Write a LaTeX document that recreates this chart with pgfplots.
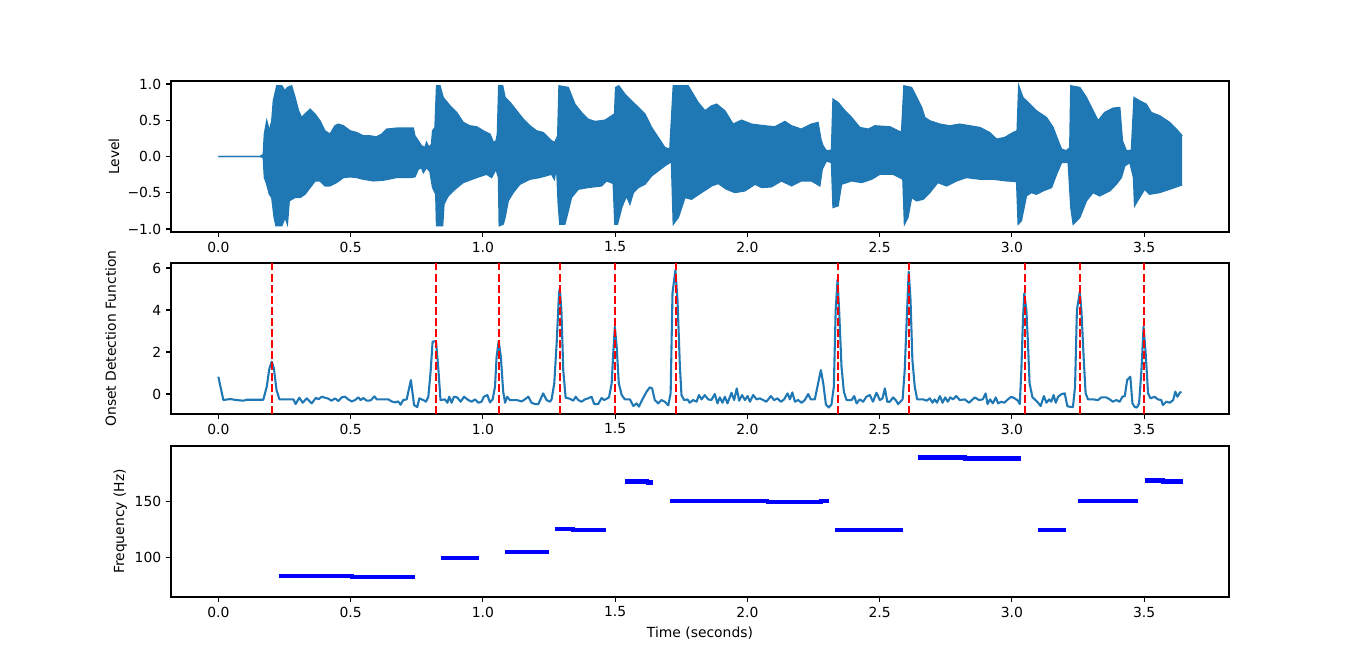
\documentclass[border=0pt]{standalone}
\usepackage{fontspec}
\setmainfont{DejaVu Sans}
\usepackage{pgfplots}
\pgfplotsset{compat=1.18}
\usepgfplotslibrary{fillbetween}
\definecolor{mplblue}{HTML}{1F77B4}
\pgfplotsset{
 myax/.style={
  scale only axis, width=761.76pt, height=108.72pt,
  anchor=south west,
  xmin=-0.179, xmax=3.821,
  xtick={0,0.5,1,1.5,2,2.5,3,3.5},
  xticklabels={0.0,0.5,1.0,1.5,2.0,2.5,3.0,3.5},
  tick align=outside, tick pos=left,
  major tick length=3.5pt,
  tick style={line width=0.8pt, black},
  axis line style={line width=0.8pt},
  tick label style={font=\fontsize{10}{12}\selectfont},
  label style={font=\fontsize{10}{12}\selectfont},
  /pgf/number format/assume math mode=true,
  unbounded coords=jump,
 }
}
\begin{document}
\begin{tikzpicture}
\path (0,0) rectangle (983.52pt,483.12pt);
% ---------- top: waveform
\begin{axis}[myax, at={(123.12pt,316.08pt)},
  ymin=-1.042, ymax=1.042,
  ytick={-1,-0.5,0,0.5,1},
  yticklabels={−1.0,−0.5,0.0,0.5,1.0},
  ylabel={Level},
  ylabel style={at={(axis description cs:-0.054,0.5)}, anchor=center}]
\addplot[mplblue, line width=1pt, name path=up] coordinates {
(0,0)(0.158,0)(0.170,0.03)(0.174,0.31)(0.183,0.49)(0.193,0.35)(0.202,0.49)(0.208,0.77)(0.221,0.975)(0.240,0.975)(0.252,0.906)(0.261,0.952)(0.277,0.975)(0.290,0.814)(0.303,0.630)(0.315,0.538)(0.334,0.607)(0.347,0.653)(0.366,0.584)(0.384,0.492)(0.403,0.354)(0.422,0.308)(0.441,0.423)(0.454,0.446)(0.473,0.423)(0.498,0.354)(0.523,0.331)(0.548,0.285)(0.573,0.285)(0.598,0.271)(0.618,0.308)(0.636,0.377)(0.674,0.391)(0.737,0.391)(0.743,0.285)(0.756,0.216)(0.768,0.147)(0.781,0.124)(0.787,0.193)(0.797,0.124)(0.806,0.170)(0.810,0.354)(0.819,0.400)(0.825,0.975)(0.838,0.975)(0.850,0.814)(0.876,0.699)(0.901,0.607)(0.926,0.469)(0.951,0.423)(0.977,0.409)(1.002,0.354)(1.027,0.308)(1.040,0.193)(1.050,0.216)(1.055,0.308)(1.060,0.975)(1.075,0.975)(1.084,0.814)(1.103,0.745)(1.128,0.630)(1.153,0.515)(1.178,0.423)(1.203,0.354)(1.228,0.331)(1.260,0.216)(1.272,0.193)(1.283,0.285)(1.288,0.975)(1.323,0.952)(1.348,0.722)(1.373,0.607)(1.398,0.515)(1.424,0.483)(1.462,0.501)(1.493,0.575)(1.497,0.492)(1.502,0.952)(1.514,0.975)(1.537,0.860)(1.562,0.768)(1.588,0.676)(1.613,0.584)(1.638,0.400)(1.663,0.262)(1.688,0.124)(1.707,0.101)(1.720,0.975)(1.776,0.975)(1.814,0.745)(1.840,0.630)(1.865,0.699)(1.884,0.722)(1.915,0.630)(1.946,0.446)(1.978,0.501)(2.016,0.446)(2.066,0.423)(2.104,0.409)(2.142,0.483)(2.167,0.423)(2.204,0.377)(2.242,0.446)(2.267,0.469)(2.278,0.239)(2.286,0.147)(2.299,0.078)(2.318,0.087)(2.324,0.791)(2.343,0.745)(2.369,0.630)(2.394,0.538)(2.425,0.400)(2.457,0.377)(2.482,0.423)(2.539,0.409)(2.583,0.331)(2.592,0.975)(2.621,0.952)(2.640,0.814)(2.659,0.676)(2.671,0.538)(2.690,0.492)(2.728,0.446)(2.765,0.423)(2.803,0.446)(2.841,0.423)(2.879,0.400)(2.916,0.331)(2.942,0.239)(2.973,0.262)(3.005,0.331)(3.020,0.354)(3.026,0.975)(3.042,0.814)(3.068,0.722)(3.093,0.630)(3.131,0.538)(3.156,0.400)(3.175,0.216)(3.188,0.101)(3.206,0.078)(3.219,0.124)(3.223,0.975)(3.257,0.952)(3.282,0.814)(3.307,0.630)(3.326,0.492)(3.351,0.607)(3.383,0.667)(3.408,0.676)(3.418,0.216)(3.433,0.078)(3.452,0.087)(3.462,0.814)(3.483,0.768)(3.508,0.722)(3.527,0.607)(3.559,0.561)(3.597,0.469)(3.622,0.377)(3.644,0.285)
};
\addplot[mplblue, line width=1pt, name path=lo] coordinates {
(0,0)(0.158,0)(0.170,-0.014)(0.174,-0.290)(0.183,-0.382)(0.193,-0.520)(0.202,-0.566)(0.211,-0.841)(0.218,-0.956)(0.240,-0.956)(0.252,-0.841)(0.261,-0.933)(0.268,-0.611)(0.290,-0.566)(0.309,-0.566)(0.328,-0.520)(0.347,-0.428)(0.366,-0.336)(0.384,-0.336)(0.403,-0.405)(0.422,-0.405)(0.447,-0.359)(0.473,-0.290)(0.498,-0.280)(0.523,-0.290)(0.548,-0.313)(0.586,-0.336)(0.624,-0.326)(0.674,-0.290)(0.724,-0.290)(0.743,-0.280)(0.756,-0.175)(0.768,-0.152)(0.775,-0.221)(0.787,-0.152)(0.800,-0.207)(0.810,-0.428)(0.822,-0.520)(0.825,-0.956)(0.848,-0.956)(0.853,-0.657)(0.869,-0.543)(0.895,-0.451)(0.926,-0.359)(0.977,-0.290)(1.014,-0.244)(1.033,-0.290)(1.040,-0.244)(1.050,-0.175)(1.059,-0.290)(1.062,-0.956)(1.077,-0.933)(1.084,-0.841)(1.096,-0.611)(1.115,-0.497)(1.140,-0.382)(1.178,-0.313)(1.215,-0.290)(1.260,-0.244)(1.270,-0.313)(1.279,-0.152)(1.285,-0.657)(1.291,-0.933)(1.310,-0.933)(1.323,-0.749)(1.335,-0.566)(1.361,-0.451)(1.398,-0.428)(1.449,-0.405)(1.468,-0.336)(1.493,-0.372)(1.499,-0.933)(1.509,-0.933)(1.525,-0.703)(1.543,-0.543)(1.556,-0.657)(1.569,-0.497)(1.588,-0.428)(1.613,-0.382)(1.638,-0.267)(1.663,-0.198)(1.688,-0.129)(1.713,-0.069)(1.720,-0.933)(1.739,-0.841)(1.764,-0.566)(1.789,-0.589)(1.827,-0.497)(1.865,-0.405)(1.890,-0.372)(1.921,-0.451)(1.953,-0.497)(1.991,-0.474)(2.029,-0.382)(2.054,-0.428)(2.091,-0.418)(2.129,-0.336)(2.167,-0.405)(2.204,-0.336)(2.242,-0.336)(2.274,-0.405)(2.283,-0.175)(2.299,-0.060)(2.318,-0.083)(2.324,-0.703)(2.343,-0.680)(2.356,-0.382)(2.394,-0.336)(2.432,-0.359)(2.470,-0.313)(2.501,-0.244)(2.551,-0.244)(2.576,-0.290)(2.588,-0.313)(2.594,-0.933)(2.607,-0.841)(2.621,-0.566)(2.640,-0.611)(2.665,-0.589)(2.690,-0.497)(2.720,-0.359)(2.753,-0.405)(2.791,-0.336)(2.828,-0.290)(2.879,-0.313)(2.929,-0.313)(2.980,-0.336)(3.018,-0.345)(3.024,-0.933)(3.036,-0.887)(3.055,-0.543)(3.074,-0.497)(3.093,-0.520)(3.118,-0.474)(3.150,-0.428)(3.169,-0.244)(3.188,-0.083)(3.213,-0.083)(3.223,-0.703)(3.232,-0.933)(3.257,-0.841)(3.282,-0.611)(3.307,-0.497)(3.332,-0.543)(3.370,-0.474)(3.395,-0.382)(3.414,-0.290)(3.427,-0.129)(3.446,-0.083)(3.460,-0.290)(3.464,-0.680)(3.483,-0.566)(3.502,-0.451)(3.521,-0.520)(3.559,-0.497)(3.597,-0.451)(3.644,-0.391)
};
\addplot[mplblue, draw=none] fill between[of=up and lo];
\end{axis}
% ---------- middle: onset detection function
\begin{axis}[myax, at={(123.12pt,185.04pt)},
  ymin=-0.95, ymax=6.24,
  ytick={0,2,4,6},
  ylabel={Onset Detection Function},
  ylabel style={at={(axis description cs:-0.057,0.5)}, anchor=center}]
\addplot[mplblue, line width=1.5pt, line join=round] coordinates {
(0.000,0.825)(0.019,-0.286)(0.044,-0.238)(0.069,-0.286)(0.095,-0.317)(0.107,-0.270)(0.170,-0.270)(0.183,0.349)(0.193,1.222)(0.202,1.540)(0.210,1.222)(0.220,0.190)(0.231,-0.254)(0.284,-0.254)(0.292,-0.476)(0.306,-0.175)(0.319,-0.413)(0.334,-0.206)(0.353,-0.444)(0.369,-0.175)(0.378,-0.254)(0.391,-0.127)(0.416,-0.222)(0.428,-0.317)(0.441,-0.206)(0.454,-0.333)(0.466,-0.159)(0.479,-0.127)(0.491,-0.254)(0.504,-0.349)(0.517,-0.286)(0.529,-0.159)(0.538,-0.286)(0.548,-0.190)(0.561,-0.317)(0.576,-0.302)(0.590,-0.111)(0.599,-0.254)(0.624,-0.254)(0.643,-0.254)(0.655,-0.349)(0.668,-0.397)(0.680,-0.349)(0.689,-0.508)(0.699,-0.286)(0.712,-0.254)(0.728,0.667)(0.740,-0.524)(0.752,-0.62)(0.760,-0.206)(0.775,-0.286)(0.785,-0.365)(0.794,-0.127)(0.803,1.143)(0.810,2.492)(0.823,2.524)(0.832,1.143)(0.840,-0.286)(0.857,-0.254)(0.866,-0.413)(0.873,-0.127)(0.882,-0.413)(0.891,-0.127)(0.903,-0.159)(0.916,-0.365)(0.929,-0.127)(0.945,-0.286)(0.958,-0.365)(0.970,-0.254)(0.983,-0.413)(0.995,-0.365)(1.004,-0.127)(1.017,-0.048)(1.027,-0.397)(1.037,-0.254)(1.046,0.349)(1.052,1.778)(1.060,2.524)(1.068,1.778)(1.077,0.111)(1.084,-0.413)(1.092,-0.127)(1.102,-0.286)(1.128,-0.286)(1.147,-0.349)(1.159,-0.254)(1.172,-0.127)(1.184,-0.413)(1.197,-0.476)(1.210,-0.476)(1.228,0.032)(1.241,-0.286)(1.254,-0.365)(1.260,-0.254)(1.270,0.508)(1.279,2.413)(1.288,4.794)(1.291,5.032)(1.297,4.0)(1.304,1.143)(1.313,-0.175)(1.329,-0.222)(1.342,-0.317)(1.351,-0.127)(1.361,-0.286)(1.373,-0.365)(1.386,-0.254)(1.398,-0.206)(1.411,-0.127)(1.421,-0.476)(1.436,-0.476)(1.449,-0.190)(1.459,-0.286)(1.477,-0.159)(1.487,0.508)(1.493,1.937)(1.499,3.206)(1.506,2.254)(1.514,0.508)(1.525,-0.048)(1.537,-0.254)(1.556,-0.254)(1.569,-0.571)(1.581,-0.444)(1.590,-0.60)(1.602,-0.286)(1.619,0.111)(1.631,0.317)(1.640,0.270)(1.650,-0.286)(1.663,-0.444)(1.675,-0.286)(1.688,-0.365)(1.701,-0.540)(1.710,0.032)(1.717,4.794)(1.728,5.905)(1.736,4.476)(1.745,1.302)(1.751,-0.048)(1.761,-0.286)(1.774,-0.254)(1.782,-0.413)(1.795,-0.286)(1.808,-0.365)(1.817,-0.048)(1.827,-0.254)(1.839,-0.048)(1.852,-0.254)(1.864,-0.286)(1.877,0.000)(1.887,-0.444)(1.896,-0.159)(1.906,-0.413)(1.915,-0.127)(1.925,-0.444)(1.940,0.063)(1.950,-0.286)(1.960,0.270)(1.969,-0.317)(1.980,-0.048)(1.991,-0.286)(2.001,-0.095)(2.010,-0.365)(2.022,-0.048)(2.035,-0.254)(2.047,-0.206)(2.060,-0.286)(2.072,-0.365)(2.089,-0.095)(2.101,-0.286)(2.114,-0.206)(2.127,-0.365)(2.139,-0.254)(2.152,0.032)(2.161,-0.254)(2.170,0.079)(2.180,-0.365)(2.192,-0.286)(2.205,-0.413)(2.217,-0.286)(2.230,0.000)(2.240,-0.254)(2.255,-0.254)(2.265,0.349)(2.278,1.143)(2.287,0.508)(2.297,-0.50)(2.308,-0.64)(2.318,-0.50)(2.327,0.349)(2.334,4.000)(2.341,5.429)(2.347,4.000)(2.356,1.302)(2.365,0.111)(2.375,-0.286)(2.394,-0.286)(2.404,-0.095)(2.413,-0.444)(2.425,-0.254)(2.438,-0.365)(2.450,-0.127)(2.463,-0.048)(2.475,-0.365)(2.488,0.063)(2.501,-0.286)(2.511,-0.206)(2.520,0.270)(2.529,-0.365)(2.539,-0.365)(2.551,-0.159)(2.561,-0.286)(2.570,-0.476)(2.587,-0.254)(2.595,1.143)(2.604,4.0)(2.610,5.825)(2.617,4.476)(2.624,1.619)(2.633,0.349)(2.642,-0.254)(2.665,-0.254)(2.678,-0.317)(2.690,-0.206)(2.700,-0.413)(2.708,-0.254)(2.717,-0.413)(2.728,-0.095)(2.738,-0.413)(2.748,-0.159)(2.758,-0.365)(2.767,-0.159)(2.778,-0.254)(2.790,-0.095)(2.803,-0.286)(2.822,-0.254)(2.838,-0.413)(2.860,-0.159)(2.876,-0.286)(2.890,-0.254)(2.901,0.032)(2.908,-0.476)(2.918,-0.254)(2.928,-0.444)(2.939,-0.159)(2.948,-0.444)(2.960,-0.365)(2.972,-0.413)(2.985,-0.254)(2.998,-0.127)(3.011,-0.206)(3.023,-0.317)(3.030,-0.476)(3.036,1.143)(3.042,3.524)(3.047,4.794)(3.055,4.000)(3.061,2.413)(3.067,0.508)(3.078,-0.159)(3.087,-0.254)(3.099,-0.413)(3.109,-0.571)(3.121,-0.095)(3.131,-0.413)(3.141,-0.254)(3.149,-0.365)(3.158,-0.048)(3.166,-0.413)(3.175,-0.127)(3.188,0.000)(3.200,0.032)(3.210,-0.58)(3.221,-0.61)(3.231,-0.62)(3.239,0.349)(3.246,4.000)(3.257,4.873)(3.263,4.000)(3.272,1.619)(3.279,0.032)(3.288,-0.254)(3.307,-0.254)(3.326,-0.286)(3.338,-0.159)(3.357,-0.159)(3.370,-0.254)(3.382,-0.365)(3.395,-0.286)(3.408,-0.365)(3.418,-0.127)(3.427,-0.095)(3.436,0.667)(3.448,0.825)(3.456,-0.444)(3.465,-0.62)(3.473,-0.64)(3.481,-0.444)(3.490,1.143)(3.498,3.206)(3.506,1.937)(3.515,0.032)(3.524,-0.206)(3.540,-0.127)(3.552,-0.254)(3.565,-0.286)(3.571,-0.524)(3.584,-0.365)(3.597,-0.413)(3.610,-0.286)(3.618,0.111)(3.626,-0.127)(3.635,0.063)(3.641,0.111)
};
\addplot[red, line width=1.5pt, dash pattern=on 5.55pt off 2.4pt] coordinates {
(0.202,-0.95)(0.202,6.24)(0.202,nan)
(0.823,-0.95)(0.823,6.24)(0.823,nan)
(1.060,-0.95)(1.060,6.24)(1.060,nan)
(1.291,-0.95)(1.291,6.24)(1.291,nan)
(1.498,-0.95)(1.498,6.24)(1.498,nan)
(1.729,-0.95)(1.729,6.24)(1.729,nan)
(2.341,-0.95)(2.341,6.24)(2.341,nan)
(2.610,-0.95)(2.610,6.24)(2.610,nan)
(3.048,-0.95)(3.048,6.24)(3.048,nan)
(3.259,-0.95)(3.259,6.24)(3.259,nan)
(3.498,-0.95)(3.498,6.24)
};
\end{axis}
% ---------- bottom: pitch segments
\begin{axis}[myax, at={(123.12pt,53.28pt)},
  ymin=64.3, ymax=200,
  ytick={100,150},
  ylabel={Frequency (Hz)},
  ylabel style={at={(axis description cs:-0.048,0.5)}, anchor=center},
  xlabel={Time (seconds)},
  xlabel style={at={(axis description cs:0.5,-0.238)}, anchor=center}]
\addplot[blue, line width=3pt, line cap=butt] coordinates {
(0.228,83.3)(0.511,83.3)(0.511,nan)
(0.498,82.4)(0.743,82.4)(0.743,nan)
(0.842,99.7)(0.985,99.7)(0.985,nan)
(1.084,104.7)(1.250,104.7)(1.250,nan)
(1.272,125.6)(1.348,125.6)(1.348,nan)
(1.334,124.4)(1.467,124.4)(1.467,nan)
(1.537,168.1)(1.630,168.1)(1.630,nan)
(1.617,167.2)(1.642,167.2)(1.642,nan)
(1.707,150.3)(2.082,150.3)(2.082,nan)
(2.072,149.4)(2.285,149.4)(2.285,nan)
(2.271,150.3)(2.308,150.3)(2.308,nan)
(2.330,124.4)(2.588,124.4)(2.588,nan)
(2.644,189.6)(2.830,189.6)(2.830,nan)
(2.815,188.7)(3.033,188.7)(3.033,nan)
(3.097,124.4)(3.204,124.4)(3.204,nan)
(3.249,150.3)(3.476,150.3)(3.476,nan)
(3.502,169.0)(3.580,169.0)(3.580,nan)
(3.564,168.1)(3.646,168.1)
};
\end{axis}
\end{tikzpicture}
\end{document}
